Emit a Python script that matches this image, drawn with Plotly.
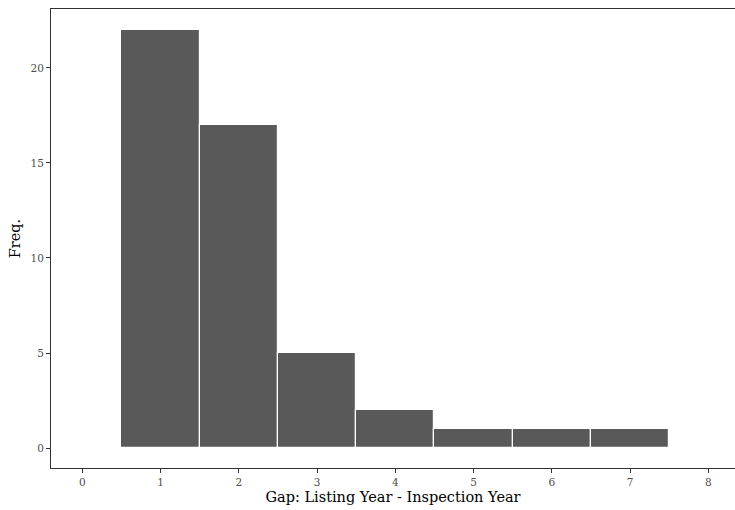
import plotly.graph_objects as go

gaps = [1, 2, 3, 4, 5, 6, 7]
freq = [22, 17, 5, 2, 1, 1, 1]
x_ticks = [0, 1, 2, 3, 4, 5, 6, 7, 8]
y_ticks = [0, 5, 10, 15, 20]

fig = go.Figure(go.Bar(
    x=gaps, y=freq, width=1,
    marker=dict(color="#595959", line=dict(color="white", width=1.2)),
))

font = "DejaVu Serif, serif"
fig.update_layout(
    width=735, height=510,
    margin=dict(l=51, r=0, t=9, b=42),
    plot_bgcolor="white", paper_bgcolor="white",
    showlegend=False,
    font=dict(family=font, color="#4d4d4d", size=10.5),
    bargap=0,
)
fig.update_xaxes(
    range=[-0.40, 8.34], tickvals=x_ticks, ticktext=[str(v) for v in x_ticks],
    showgrid=False, zeroline=False,
    showline=True, linecolor="#333333", linewidth=1.1, mirror=True,
    ticks="outside", ticklen=4, tickcolor="#333333", tickwidth=1.1,
    title=dict(text="Gap: Listing Year - Inspection Year", font=dict(size=14.5, color="black"), standoff=5),
)
fig.update_yaxes(
    range=[-1.05, 23.1], tickvals=y_ticks, ticktext=[str(v) for v in y_ticks],
    showgrid=False, zeroline=False,
    showline=True, linecolor="#333333", linewidth=1.1,
    ticks="outside", ticklen=4, tickcolor="#333333", tickwidth=1.1,
    title=dict(text="Freq.", font=dict(size=14.5, color="black"), standoff=6),
)
fig.write_html("out.html")
